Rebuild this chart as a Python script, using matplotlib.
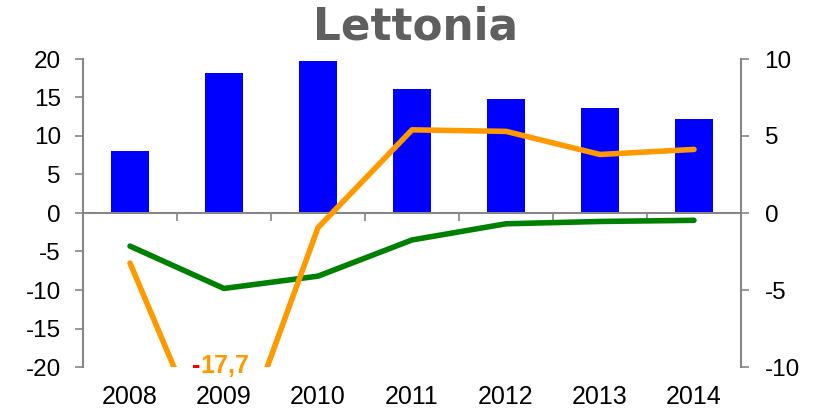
import matplotlib
matplotlib.use("Agg")
import matplotlib.pyplot as plt
from matplotlib.transforms import blended_transform_factory

plt.rcParams['font.family'] = ['Liberation Sans', 'DejaVu Sans']
plt.rcParams['axes.unicode_minus'] = False

years = ["2008", "2009", "2010", "2011", "2012", "2013", "2014"]
unemployment = [8.0, 18.2, 19.8, 16.1, 14.8, 13.6, 12.2]       # bars, left axis
balance = [-4.3, -9.8, -8.2, -3.5, -1.4, -1.1, -0.95]          # green, left axis
gdp_growth = [-3.25, -17.7, -0.95, 5.4, 5.3, 3.8, 4.13]        # orange, right axis
label_value = "17,7"

gray = "#868686"
fig = plt.figure(figsize=(8.18, 4.11), dpi=100)
ax = fig.add_axes([83/818, 44/411, (741-83)/818, (367-59)/411])
x = list(range(len(years)))

ax.bar(x, unemployment, width=0.4, color="#0000FF", zorder=2)
ax.plot(x, balance, color="#008000", lw=4, solid_capstyle="round", zorder=3)
ax.set_xlim(-0.5, len(years) - 0.5)
ax.set_ylim(-20, 20)
ax.set_yticks([-20, -15, -10, -5, 0, 5, 10, 15, 20])
ax.tick_params(axis="y", direction="out", length=6, width=1.2, color=gray,
               labelsize=17.5, pad=10)

for s in ["top", "right"]:
    ax.spines[s].set_visible(False)
ax.spines["left"].set_color(gray)
ax.spines["left"].set_linewidth(1.5)
ax.spines["bottom"].set_position(("data", 0))
ax.spines["bottom"].set_color(gray)
ax.spines["bottom"].set_linewidth(1.5)
ax.set_xticks([i - 0.5 for i in range(len(years) + 1)])
ax.set_xticklabels([])
ax.tick_params(axis="x", direction="out", length=6, width=1.2, color=gray)

trans = blended_transform_factory(ax.transData, ax.transAxes)
for i, yr in enumerate(years):
    ax.text(i, -0.097, yr, transform=trans, ha="center", va="center", fontsize=18)

ax2 = ax.twinx()
ax2.set_position(ax.get_position())
ax2.plot(x, gdp_growth, color="#FF9900", lw=4, solid_capstyle="round", zorder=3)
ax2.set_ylim(-10, 10)
ax2.set_yticks([-10, -5, 0, 5, 10])
ax2.tick_params(axis="y", direction="out", length=6, width=1.2, color=gray,
                labelsize=17.5, pad=11)
for s in ["top", "left", "bottom"]:
    ax2.spines[s].set_visible(False)
ax2.spines["right"].set_color(gray)
ax2.spines["right"].set_linewidth(1.5)

# annotation of the clipped value
ax2.annotate(label_value, xy=(1, -10), xytext=(1, 1), textcoords="offset pixels",
             ha="center", va="center", fontsize=18, fontweight="bold",
             color="#FF9900", annotation_clip=False)
ax2.annotate("-", xy=(1, -10), xytext=(-24, 1), textcoords="offset pixels",
             ha="right", va="center", fontsize=18, fontweight="bold",
             color="#FF0000", annotation_clip=False)

fig.text(0.508, 0.934, "Lettonia", ha="center", va="center", fontsize=31.5,
         fontweight="bold", color="#5F5F5F", family="DejaVu Sans")

fig.savefig("out.png", dpi=100)
